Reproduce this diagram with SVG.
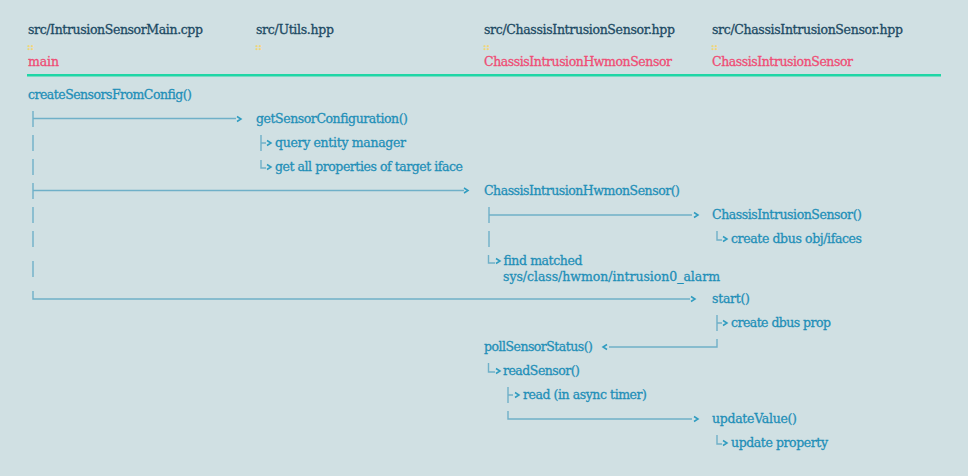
<svg xmlns="http://www.w3.org/2000/svg" width="968" height="476" viewBox="0 0 968 476">
<style>
text{font-family:"DejaVu Serif","Liberation Serif",serif;font-size:12.500px;fill:#1f8fb8;stroke:#1f8fb8;stroke-width:.3}
.h{fill:#1c4a63;stroke:#1c4a63}
.a{fill:#ef4d75;stroke:#ef4d75}
.d{fill:#f3d774;stroke:#f3d774;font-size:10px;font-weight:bold}
.c{stroke:#6fb0c8;stroke-width:1.4;fill:none}
.m{stroke:#2f9cc0;stroke-width:1.5;fill:none}
</style>
<rect width="968" height="476" fill="#d0e0e3"/>
<g id="p1"><text class="h" x="28" y="34" textLength="175">src/IntrusionSensorMain.cpp</text><text class="d" x="27" y="50" textLength="7">::</text><text class="a" x="28" y="66" textLength="31">main</text></g>
<g id="p2"><text class="h" x="256" y="34" textLength="78">src/Utils.hpp</text><text class="d" x="255" y="50" textLength="7">::</text></g>
<g id="p3"><text class="h" x="484" y="34" textLength="191">src/ChassisIntrusionSensor.hpp</text><text class="d" x="483" y="50" textLength="7">::</text><text class="a" x="484" y="66" textLength="188">ChassisIntrusionHwmonSensor</text></g>
<g id="p4"><text class="h" x="712" y="34" textLength="191">src/ChassisIntrusionSensor.hpp</text><text class="d" x="711" y="50" textLength="7">::</text><text class="a" x="712" y="66" textLength="141">ChassisIntrusionSensor</text></g>
<rect x="27" y="74" width="914" height="2.500" fill="#1fd6a6"/>
<g id="n1"><text x="28" y="99" textLength="164">createSensorsFromConfig()</text></g>
<g id="n2"><text x="256" y="123" textLength="152">getSensorConfiguration()</text></g>
<g id="n3"><text x="275" y="147" textLength="131">query entity manager</text></g>
<g id="n4"><text x="275" y="171" textLength="188">get all properties of target iface</text></g>
<g id="n5"><text x="484" y="195" textLength="196">ChassisIntrusionHwmonSensor()</text></g>
<g id="n6"><text x="712" y="219" textLength="150">ChassisIntrusionSensor()</text></g>
<g id="n7"><text x="731" y="243" textLength="131">create dbus obj/ifaces</text></g>
<g id="n8"><text x="503" y="265" textLength="79">find matched</text><text x="503" y="281" textLength="217">sys/class/hwmon/intrusion0_alarm</text></g>
<g id="n9"><text x="712" y="303" textLength="38">start()</text></g>
<g id="n10"><text x="731" y="327" textLength="100">create dbus prop</text></g>
<g id="n11"><text x="484" y="351" textLength="109">pollSensorStatus()</text></g>
<g id="n12"><text x="503" y="375" textLength="77">readSensor()</text></g>
<g id="n13"><text x="523" y="399" textLength="124">read (in async timer)</text></g>
<g id="n14"><text x="712" y="423" textLength="85">updateValue()</text></g>
<g id="n15"><text x="731" y="447" textLength="97">update property</text></g>
<g id="connectors">
<path class="c" d="M33 111V127M33 118.500H236M33 135V151M33 159V175M33 183V199M33 190.500H464M33 207V223M33 231V247M33 261V277M33 291V299H690"/>
<path class="m" d="M237 116.500l4 2.500l-4 2.500M464 188l4 2.500l-4 2.500M691 296.500l4 2.500l-4 2.500"/>
<path class="c" d="M261 135V151M261 143H266M261 160V168H266"/>
<path class="m" d="M267 140.500l4 2.500l-4 2.500M267 164.500l4 2.500l-4 2.500"/>
<path class="c" d="M489 207V223M489 215H692M489 231V247M488.500 255V263H495"/>
<path class="m" d="M694 212.500l4 2.500l-4 2.500M496 258.500l4 2.500l-4 2.500"/>
<path class="c" d="M717 231V240H722M717 315V331M717 323H722"/>
<path class="m" d="M723 236.500l4 2.500l-4 2.500M723 320.500l4 2.500l-4 2.500"/>
<path class="c" d="M717 339V347H609"/>
<path class="m" d="M607 344.500l-4 2.500l4 2.500"/>
<path class="c" d="M488.500 363V372H495M508 387V403M508 395H513M508 411V419H692"/>
<path class="m" d="M496 368.500l4 2.500l-4 2.500M515 392.500l4 2.500l-4 2.500M694 416.500l4 2.500l-4 2.500"/>
<path class="c" d="M717 435V444H722"/>
<path class="m" d="M723 440.500l4 2.500l-4 2.500"/>
</g>
</svg>
